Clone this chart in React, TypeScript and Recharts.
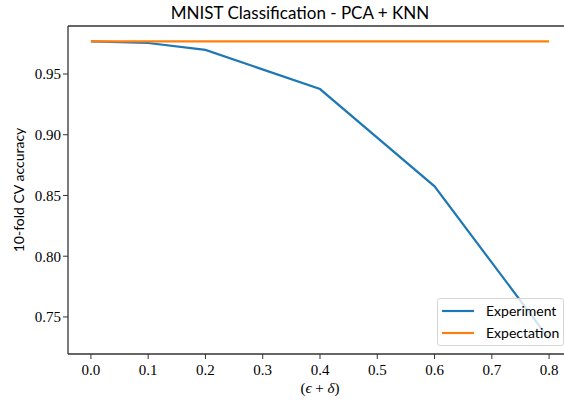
import React from 'react';
import { LineChart, Line, XAxis, YAxis, Legend } from 'recharts';

const epsDelta = [0.0, 0.1, 0.2, 0.4, 0.6, 0.8];
const experiment = [0.9768, 0.9755, 0.9698, 0.9376, 0.8575, 0.732];
const expectation = [0.9768, 0.9768, 0.9768, 0.9768, 0.9768, 0.9768];
const xTicks = [0.0, 0.1, 0.2, 0.3, 0.4, 0.5, 0.6, 0.7, 0.8];
const yTicks = [0.75, 0.8, 0.85, 0.9, 0.95];
const seriesNames = ['Experiment', 'Expectation'];
const seriesColors = ['#1f77b4', '#ff7f0e'];
const title = 'MNIST Classification - PCA + KNN';
const yLabel = '10-fold CV accuracy';

const data = epsDelta.map((x, i) => ({ x, experiment: experiment[i], expectation: expectation[i] }));

const SANS = 'Lato, "DejaVu Sans", sans-serif';
const SERIF = '"Liberation Serif", "DejaVu Serif", serif';
const AXIS = '#333333';

const XLabel = (props: any) => {
  const vb = props.viewBox || {};
  const cx = vb.x + vb.width / 2;
  return (
    <text x={cx} y={vb.y + 39} textAnchor="middle" fontFamily={SERIF} fontSize={15} fill="#000">
      (<tspan fontStyle="italic">ϵ</tspan> + <tspan fontStyle="italic">δ</tspan>)
    </text>
  );
};

const YLabel = (props: any) => {
  const vb = props.viewBox || {};
  const x = vb.x + 18;
  const y = vb.y + vb.height / 2;
  return (
    <text x={x} y={y} transform={`rotate(-90 ${x} ${y})`} textAnchor="middle" dominantBaseline="central" fontFamily={SANS} fontSize={14} fill="#000">
      {yLabel}
    </text>
  );
};

const LegendBox = (props: any) => {
  const payload = [...(props.payload || [])].sort(
    (a: any, b: any) => seriesNames.indexOf(a.value) - seriesNames.indexOf(b.value)
  );
  return (
    <div style={{ boxSizing: 'border-box', width: 127, height: 48, border: '1px solid #d6d6d6', borderRadius: 3, background: 'rgba(255,255,255,0.8)', paddingTop: 1 }}>
      {payload.map((p: any) => (
        <div key={p.value} style={{ height: 22, display: 'flex', alignItems: 'center' }}>
          <svg width={32} height={4} style={{ marginLeft: 4, marginRight: 12, display: 'block' }}>
            <line x1={0} y1={2} x2={32} y2={2} stroke={p.color} strokeWidth={2.2} />
          </svg>
          <span style={{ fontFamily: SANS, fontSize: 14, color: '#000', lineHeight: '22px' }}>{p.value}</span>
        </div>
      ))}
    </div>
  );
};

export default function App() {
  return (
    <div style={{ position: 'absolute', left: 0, top: 0, width: 564, height: 405, overflow: 'hidden', background: '#fff' }}>
      <div style={{ position: 'absolute', left: 0, width: 600, top: 2, textAlign: 'center', fontFamily: SANS, fontSize: 17, color: '#000', zIndex: 2 }}>
        {title}
      </div>
      <LineChart width={572} height={405} data={data} margin={{ top: 25, right: 0, left: 0, bottom: 0 }}>
        <XAxis
          dataKey="x"
          type="number"
          domain={[-0.04, 0.84]}
          ticks={xTicks}
          allowDataOverflow
          interval={0}
          height={51}
          tickFormatter={(v: number) => v.toFixed(1)}
          tick={{ fontFamily: SERIF, fontSize: 15, fill: '#000' }}
          tickSize={5}
          tickMargin={5}
          stroke={AXIS}
          axisLine={{ stroke: AXIS, strokeWidth: 1.3 }}
          tickLine={{ stroke: AXIS, strokeWidth: 1 }}
          label={<XLabel />}
        />
        <XAxis
          xAxisId="top"
          dataKey="x"
          orientation="top"
          type="number"
          domain={[-0.04, 0.84]}
          allowDataOverflow
          height={1}
          tick={false}
          tickLine={false}
          stroke={AXIS}
          axisLine={{ stroke: AXIS, strokeWidth: 1.3 }}
        />
        <YAxis
          type="number"
          domain={[0.7195, 0.9895]}
          ticks={yTicks}
          allowDataOverflow
          interval={0}
          width={68}
          tickFormatter={(v: number) => v.toFixed(2)}
          tick={{ fontFamily: SERIF, fontSize: 15, fill: '#000' }}
          tickSize={5}
          tickMargin={2}
          stroke={AXIS}
          axisLine={{ stroke: AXIS, strokeWidth: 1.3 }}
          tickLine={{ stroke: AXIS, strokeWidth: 1 }}
          label={<YLabel />}
        />
        <Line type="linear" dataKey="experiment" name={seriesNames[0]} stroke={seriesColors[0]} strokeWidth={2.2} dot={false} isAnimationActive={false} />
        <Line type="linear" dataKey="expectation" name={seriesNames[1]} stroke={seriesColors[1]} strokeWidth={2.2} dot={false} isAnimationActive={false} />
        <Legend
          layout="horizontal"
          verticalAlign="middle"
          align="center"
          itemSorter={null as any}
          content={<LegendBox />}
          wrapperStyle={{ left: 437, top: 298, width: 127, height: 48 }}
        />
      </LineChart>
    </div>
  );
}
